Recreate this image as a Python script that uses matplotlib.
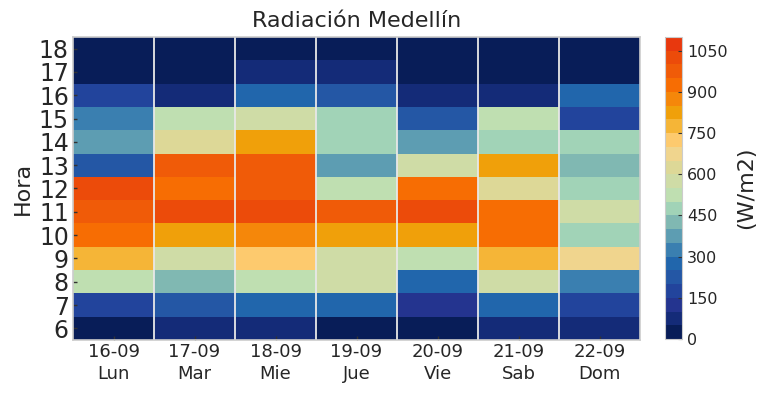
import numpy as np
import matplotlib
matplotlib.use("Agg")
import matplotlib.pyplot as plt
from matplotlib.colors import ListedColormap, BoundaryNorm

dates = ["16-09", "17-09", "18-09", "19-09", "20-09", "21-09", "22-09"]
days = ["Lun", "Mar", "Mie", "Jue", "Vie", "Sab", "Dom"]
hours = list(range(6, 19))

# values per day, hours 6..18 (W/m2)
lun = [10, 175, 525, 775, 925, 975, 1025, 225, 375, 325, 175, 10, 10]
mar = [75, 225, 425, 575, 825, 1025, 925, 975, 625, 525, 75, 10, 10]
mie = [75, 275, 525, 725, 875, 1025, 975, 975, 825, 575, 275, 75, 10]
jue = [10, 275, 575, 575, 825, 975, 525, 375, 475, 475, 225, 75, 10]
vie = [10, 125, 275, 525, 825, 1025, 925, 575, 375, 225, 75, 10, 10]
sab = [75, 275, 575, 775, 925, 925, 625, 825, 475, 525, 75, 10, 10]
dom = [75, 175, 325, 675, 475, 575, 475, 425, 475, 175, 275, 10, 10]

levels = np.arange(0, 1101, 50)
colors = ["#081d58", "#142b78", "#24348f", "#22449c", "#2457a5", "#2166ac",
          "#3a7fb0", "#5d9db2", "#80b8b2", "#a1d3b7", "#bfdfb1", "#cfdca6",
          "#ddd897", "#f0d58e", "#fdca6e", "#f5b537", "#f0a00a", "#f5870a",
          "#f76d03", "#f05b08", "#ec4b0a", "#e8380e"]
cmap = ListedColormap(colors)
norm = BoundaryNorm(levels, cmap.N)

data = np.array([lun, mar, mie, jue, vie, sab, dom]).T

fig = plt.figure(figsize=(7.67, 3.95), dpi=100)
ax = fig.add_axes([73/767, 1-340/395, (640-73)/767, (340-37)/395])
cax = fig.add_axes([665/767, 1-339/395, 17/767, (339-37)/395])

mesh = ax.pcolormesh(np.arange(len(dates)+1), np.arange(len(hours)+1), data,
                     cmap=cmap, norm=norm)
for i in range(1, len(dates)):
    ax.axvline(i, color="#e8e8e8", lw=1.3)

txtc = "#262626"
ax.set_xticks(np.arange(len(dates)) + 0.5)
ax.set_xticklabels([f"{d}\n{w}" for d, w in zip(dates, days)], fontsize=13, color=txtc,
                   linespacing=1.3)
ax.set_yticks(np.arange(len(hours)) + 0.5)
ax.set_yticklabels([str(h) for h in hours], fontsize=17, color=txtc)
ax.set_ylabel("Hora", fontsize=16, color=txtc, labelpad=4)
ax.set_title("Radiación Medellín", fontsize=16, color=txtc, pad=7)
ax.tick_params(axis="both", length=3, width=1, color="#333333", direction="in", pad=3)
ax.tick_params(axis="x", pad=2)
for s in ax.spines.values():
    s.set_color("#cccccc")
    s.set_linewidth(1.2)

cb = fig.colorbar(mesh, cax=cax, ticks=np.arange(0, 1051, 150))
cb.minorticks_off()
cb.ax.tick_params(labelsize=11.5, length=3, color="#333333", direction="in", labelcolor=txtc)
cb.set_label("(W/m2)", fontsize=16, color=txtc, labelpad=6)
cb.outline.set_edgecolor("#cccccc")

fig.savefig("out.png", dpi=100)
